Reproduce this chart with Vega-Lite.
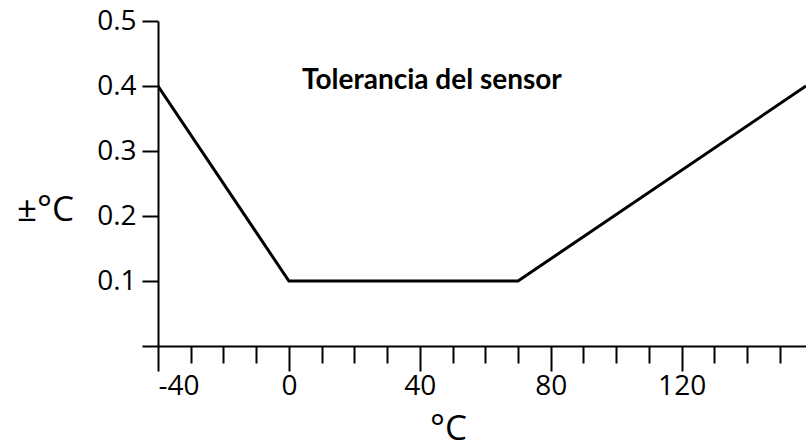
{
  "$schema": "https://vega.github.io/schema/vega-lite/v6.json",
  "width": 648,
  "height": 325,
  "autosize": "none",
  "padding": {"left": 158, "top": 21, "right": 0, "bottom": 99},
  "background": "white",
  "config": {
    "view": {"stroke": null},
    "axis": {
      "domainColor": "#000",
      "domainWidth": 2,
      "tickColor": "#000",
      "tickWidth": 2,
      "labelColor": "#000",
      "labelFont": "Open Sans",
      "labelFontSize": 28,
      "titleFont": "Open Sans",
      "titleColor": "#000",
      "titleFontWeight": "normal",
      "grid": false
    }
  },
  "layer": [
    {
      "data": {"values": [
        {"t": -40, "tol": 0.4},
        {"t": 0, "tol": 0.1},
        {"t": 70, "tol": 0.1},
        {"t": 158, "tol": 0.4}
      ]},
      "mark": {"type": "line", "color": "#000", "strokeWidth": 3, "clip": true},
      "encoding": {
        "x": {
          "field": "t", "type": "quantitative",
          "scale": {"domain": [-40, 158], "nice": false, "zero": false},
          "axis": {
            "orient": "bottom",
            "values": [-30, -20, -10, 10, 20, 30, 50, 60, 70, 90, 100, 110, 130, 140, 150],
            "labels": false, "tickSize": 17, "title": null, "domain": true
          }
        },
        "y": {
          "field": "tol", "type": "quantitative",
          "scale": {"domain": [0, 0.5], "nice": false},
          "axis": {
            "values": [0, 0.1, 0.2, 0.3, 0.4, 0.5],
            "tickSize": 16,
            "labelPadding": 6,
            "labelExpr": "datum.value == 0 ? '' : format(datum.value, '.1f')",
            "title": "±°C",
            "titleAngle": 0,
            "titleFontSize": 35,
            "titleX": -113,
            "titleY": 199,
            "titleAlign": "center",
            "titleBaseline": "alphabetic"
          }
        }
      }
    },
    {
      "data": {"values": [{"t": 4, "tol": 0.395, "label": "Tolerancia del sensor"}]},
      "mark": {"type": "text", "font": "Lato", "fontWeight": "bold", "fontSize": 28, "align": "left", "baseline": "alphabetic", "color": "#000"},
      "encoding": {
        "x": {
          "field": "t", "type": "quantitative",
          "axis": {
            "orient": "bottom",
            "values": [-40, 0, 40, 80, 120],
            "tickSize": 25,
            "labelPadding": 1,
            "labelExpr": "'' + datum.value",
            "title": "°C",
            "titleFontSize": 35,
            "titleX": 290,
            "titleY": 93,
            "titleAlign": "center",
            "titleBaseline": "alphabetic",
            "domain": false
          }
        },
        "y": {"field": "tol", "type": "quantitative"},
        "text": {"field": "label"}
      }
    }
  ],
  "resolve": {"axis": {"x": "independent"}}
}
